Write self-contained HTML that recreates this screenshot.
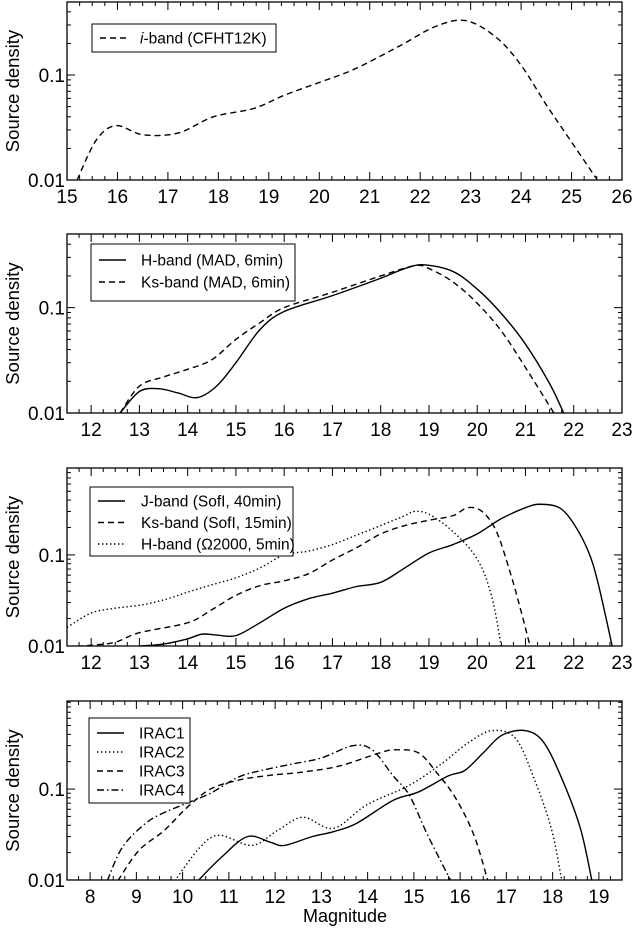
<!DOCTYPE html>
<html><head><meta charset="utf-8">
<style>
html,body{margin:0;padding:0;background:#fff;}
svg{display:block;font-family:"Liberation Sans",sans-serif;}
</style></head>
<body>
<svg id="chart" width="633" height="928" viewBox="0 0 633 928" xmlns="http://www.w3.org/2000/svg"></svg>
<script>
// ---- data ----
const p1Mag = [15.2,15.58,15.97,16.5,17.2,17.9,18.7,19.3,20.0,20.7,21.6,22.3,22.9,23.5,24.0,24.5,25.0,25.5];
const p1IBand = [0.01,0.024,0.033,0.027,0.028,0.04,0.048,0.064,0.085,0.114,0.19,0.29,0.33,0.23,0.124,0.052,0.023,0.0102];

const p2HMag = [12.6,13.0,13.4,13.8,14.2,14.6,15.0,15.5,16.0,17.0,18.0,18.5,18.9,19.5,20.0,20.5,21.0,21.5,21.8];
const p2H = [0.01,0.016,0.017,0.0155,0.014,0.018,0.03,0.062,0.092,0.13,0.19,0.235,0.255,0.22,0.15,0.088,0.045,0.019,0.0098];
const p2KsMag = [12.6,13.0,13.5,14.0,14.5,15.0,15.5,16.0,17.0,18.0,18.7,19.0,19.5,20.0,20.5,21.0,21.6];
const p2Ks = [0.01,0.018,0.022,0.026,0.032,0.05,0.072,0.1,0.14,0.2,0.25,0.235,0.175,0.11,0.06,0.027,0.0098];

const p3JMag = [13.0,13.5,14.0,14.3,14.6,15.0,15.5,16.0,16.5,17.0,17.5,18.0,18.5,19.0,19.5,20.0,20.5,21.0,21.3,21.7,22.0,22.3,22.5,22.8];
const p3J = [0.01,0.0105,0.012,0.0135,0.0132,0.013,0.018,0.026,0.033,0.038,0.045,0.05,0.072,0.105,0.13,0.17,0.25,0.33,0.36,0.33,0.22,0.11,0.05,0.0098];
const p3KsMag = [11.5,12.0,12.5,13.0,14.0,14.5,15.0,15.5,16.0,16.5,17.0,17.5,18.0,18.5,19.0,19.5,19.8,20.1,20.4,20.7,20.9,21.1];
const p3Ks = [0.0098,0.0102,0.011,0.014,0.018,0.025,0.036,0.046,0.052,0.062,0.088,0.12,0.17,0.21,0.24,0.27,0.33,0.3,0.18,0.06,0.025,0.0098];
const p3HMag = [11.5,12.0,12.5,13.0,13.5,14.0,14.5,15.0,15.5,16.0,16.5,17.0,17.5,18.0,18.5,18.7,19.0,19.5,20.0,20.3,20.5];
const p3H = [0.016,0.023,0.026,0.028,0.032,0.039,0.047,0.056,0.072,0.1,0.11,0.13,0.165,0.21,0.27,0.3,0.28,0.18,0.09,0.035,0.0098];

const p4I1Mag = [10.33,10.85,11.4,11.9,12.2,12.8,13.26,13.76,14.55,15.1,15.75,16.1,16.5,16.9,17.4,17.8,18.2,18.6,18.85];
const p4I1 = [0.0098,0.018,0.03,0.026,0.024,0.03,0.034,0.042,0.075,0.093,0.14,0.16,0.25,0.39,0.44,0.33,0.13,0.037,0.0098];
const p4I2Mag = [9.83,10.38,10.8,11.5,12.05,12.6,13.26,13.98,14.9,15.6,16.2,16.7,17.2,17.6,17.97,18.2];
const p4I2 = [0.0098,0.023,0.031,0.024,0.035,0.049,0.037,0.067,0.11,0.19,0.33,0.44,0.36,0.13,0.037,0.0098];
const p4I3Mag = [8.6,9.05,9.6,10.1,10.6,11.2,11.8,12.6,13.4,14.26,14.6,15.1,15.5,15.9,16.3,16.6];
const p4I3 = [0.0098,0.021,0.035,0.063,0.1,0.125,0.14,0.154,0.18,0.25,0.27,0.25,0.15,0.08,0.031,0.0098];
const p4I4Mag = [8.37,8.7,9.2,9.6,10.0,10.6,11.2,11.7,12.4,13.0,13.68,14.1,14.55,14.9,15.3,15.8];
const p4I4 = [0.0098,0.023,0.042,0.055,0.067,0.09,0.135,0.16,0.19,0.22,0.30,0.27,0.14,0.086,0.031,0.0098];

const NS = "http://www.w3.org/2000/svg";
const svg = document.getElementById('chart');
function el(tag, attrs, parent){const e=document.createElementNS(NS,tag);for(const k in attrs)e.setAttribute(k,attrs[k]);(parent||svg).appendChild(e);return e;}

const L=67, R=622;
const DASH={solid:null,dashed:"6,4",dotted:"1.4,2.6",dashdot:"7,3,1.5,3"};

function panel(cfg){
  const g=el('g',{});
  
  
  const xs=v=>L+(v-cfg.xmin)/(cfg.xmax-cfg.xmin)*(R-L);
  const ys=v=>cfg.bot-(Math.log10(v)-(-2))/(Math.log10(cfg.ymax)+2)*(cfg.bot-cfg.top);
  const clip='clip'+cfg.name;
  const cp=el('clipPath',{id:clip},g);el('rect',{x:L,y:cfg.top,width:R-L,height:cfg.bot-cfg.top},cp);
  const fr=el('rect',{x:L,y:cfg.top,width:R-L,height:cfg.bot-cfg.top,fill:'none',stroke:'#000','stroke-width':1.3},g);
  
  
  for(let v=Math.ceil(cfg.xmin*4)/4; v<=cfg.xmax+1e-6; v+=0.25){
    const maj=Math.abs(v-Math.round(v))<1e-6; const x=xs(v); const len=maj?8:4;
    el('line',{x1:x,y1:cfg.bot,x2:x,y2:cfg.bot-len,stroke:'#000','stroke-width':1},g);
    el('line',{x1:x,y1:cfg.top,x2:x,y2:cfg.top+len,stroke:'#000','stroke-width':1},g);
    if(maj){const t=el('text',{x:x,y:cfg.bot+23,'font-size':19,'text-anchor':'middle'},g);t.textContent=Math.round(v);
      
      }
  }
  for(let d=-2; d<=0; d++){
    for(let m=1;m<=9;m++){
      const v=m*Math.pow(10,d); if(v>cfg.ymax*1.0001) continue;
      const y=ys(v); const len=m===1?8:4;
      el('line',{x1:L,y1:y,x2:L+len,y2:y,stroke:'#000','stroke-width':1},g);
      el('line',{x1:R,y1:y,x2:R-len,y2:y,stroke:'#000','stroke-width':1},g);
      if(m===1 && d<0){const t=el('text',{x:L-2,y:y+7,'font-size':19,'text-anchor':'end'},g);t.textContent=d===-2?'0.01':'0.1';
        
        }
    }
  }
  const yl=el('text',{x:0,y:0,'font-size':18.5,'text-anchor':'middle',transform:`translate(19,${(cfg.top+cfg.bot)/2}) rotate(-90)`},g);
  yl.textContent='Source density';
  
  
  cfg.series.forEach(s=>{
    const pts=s.x.map((m,i)=>[xs(m),ys(s.y[i])]);
    let d=`M${pts[0][0]},${pts[0][1]}`;
    for(let i=0;i<pts.length-1;i++){
      const p0=pts[i-1]||pts[i],p1=pts[i],p2=pts[i+1],p3=pts[i+2]||p2;
      const c1=[p1[0]+(p2[0]-p0[0])/6,p1[1]+(p2[1]-p0[1])/6];
      const c2=[p2[0]-(p3[0]-p1[0])/6,p2[1]-(p3[1]-p1[1])/6];
      d+=` C${c1[0]},${c1[1]} ${c2[0]},${c2[1]} ${p2[0]},${p2[1]}`;
    }
    const a={d:d,fill:'none',stroke:'#000','stroke-width':1.4,'clip-path':`url(#${clip})`};
    if(DASH[s.style])a['stroke-dasharray']=DASH[s.style];
    const p=el('path',a,g);
    
    
  });
  const lg=el('g',{},g);
  
  
  const b=cfg.legend;
  el('rect',{x:b.x,y:b.y,width:b.w,height:b.h,fill:'#fff',stroke:'#000','stroke-width':1},lg);
  cfg.series.forEach((s,i)=>{
    const y=b.y+b.first+i*b.step;
    const a={x1:b.x+8,y1:y,x2:b.x+35,y2:y,stroke:'#000','stroke-width':1.4};
    if(DASH[s.style])a['stroke-dasharray']=DASH[s.style];
    el('line',a,lg);
    const t=el('text',{x:b.x+b.tx,y:y+5.5,'font-size':15.5},lg);
    t.innerHTML=s.label;
    
    
  });
}

panel({name:'panel-iband',xmin:15,xmax:26,ymax:0.4965,top:2,bot:180,
  legend:{x:92,y:24,w:184,h:28,first:14,step:22,tx:48},
  series:[{id:'i-band',x:p1Mag,y:p1IBand,style:'dashed',label:'<tspan font-style="italic">i</tspan>-band (CFHT12K)'}]});
panel({name:'panel-mad',xmin:11.5,xmax:23,ymax:0.5,top:234,bot:413,
  legend:{x:91,y:244,w:204,h:57,first:16,step:22,tx:50},
  series:[{id:'h-band-mad',x:p2HMag,y:p2H,style:'solid',label:'H-band (MAD, 6min)'},
          {id:'ks-band-mad',x:p2KsMag,y:p2Ks,style:'dashed',label:'Ks-band (MAD, 6min)'}]});
panel({name:'panel-sofi',xmin:11.5,xmax:23,ymax:0.9,top:468,bot:646,
  legend:{x:90,y:487,w:203,h:69,first:14,step:21.5,tx:51},
  series:[{id:'j-band-sofi',x:p3JMag,y:p3J,style:'solid',label:'J-band (SofI, 40min)'},
          {id:'ks-band-sofi',x:p3KsMag,y:p3Ks,style:'dashed',label:'Ks-band (SofI, 15min)'},
          {id:'h-band-omega',x:p3HMag,y:p3H,style:'dotted',label:'H-band (Ω2000, 5min)'}]});
panel({name:'panel-irac',xmin:7.5,xmax:19.5,ymax:0.93,top:701,bot:880,
  legend:{x:89,y:718,w:101,h:85,first:15,step:19,tx:50},
  series:[{id:'irac1',x:p4I1Mag,y:p4I1,style:'solid',label:'IRAC1'},
          {id:'irac2',x:p4I2Mag,y:p4I2,style:'dotted',label:'IRAC2'},
          {id:'irac3',x:p4I3Mag,y:p4I3,style:'dashed',label:'IRAC3'},
          {id:'irac4',x:p4I4Mag,y:p4I4,style:'dashdot',label:'IRAC4'}]});

const xt=el('text',{x:345,y:922,'font-size':18,'text-anchor':'middle'});
xt.textContent='Magnitude';


</script>
</body></html>
